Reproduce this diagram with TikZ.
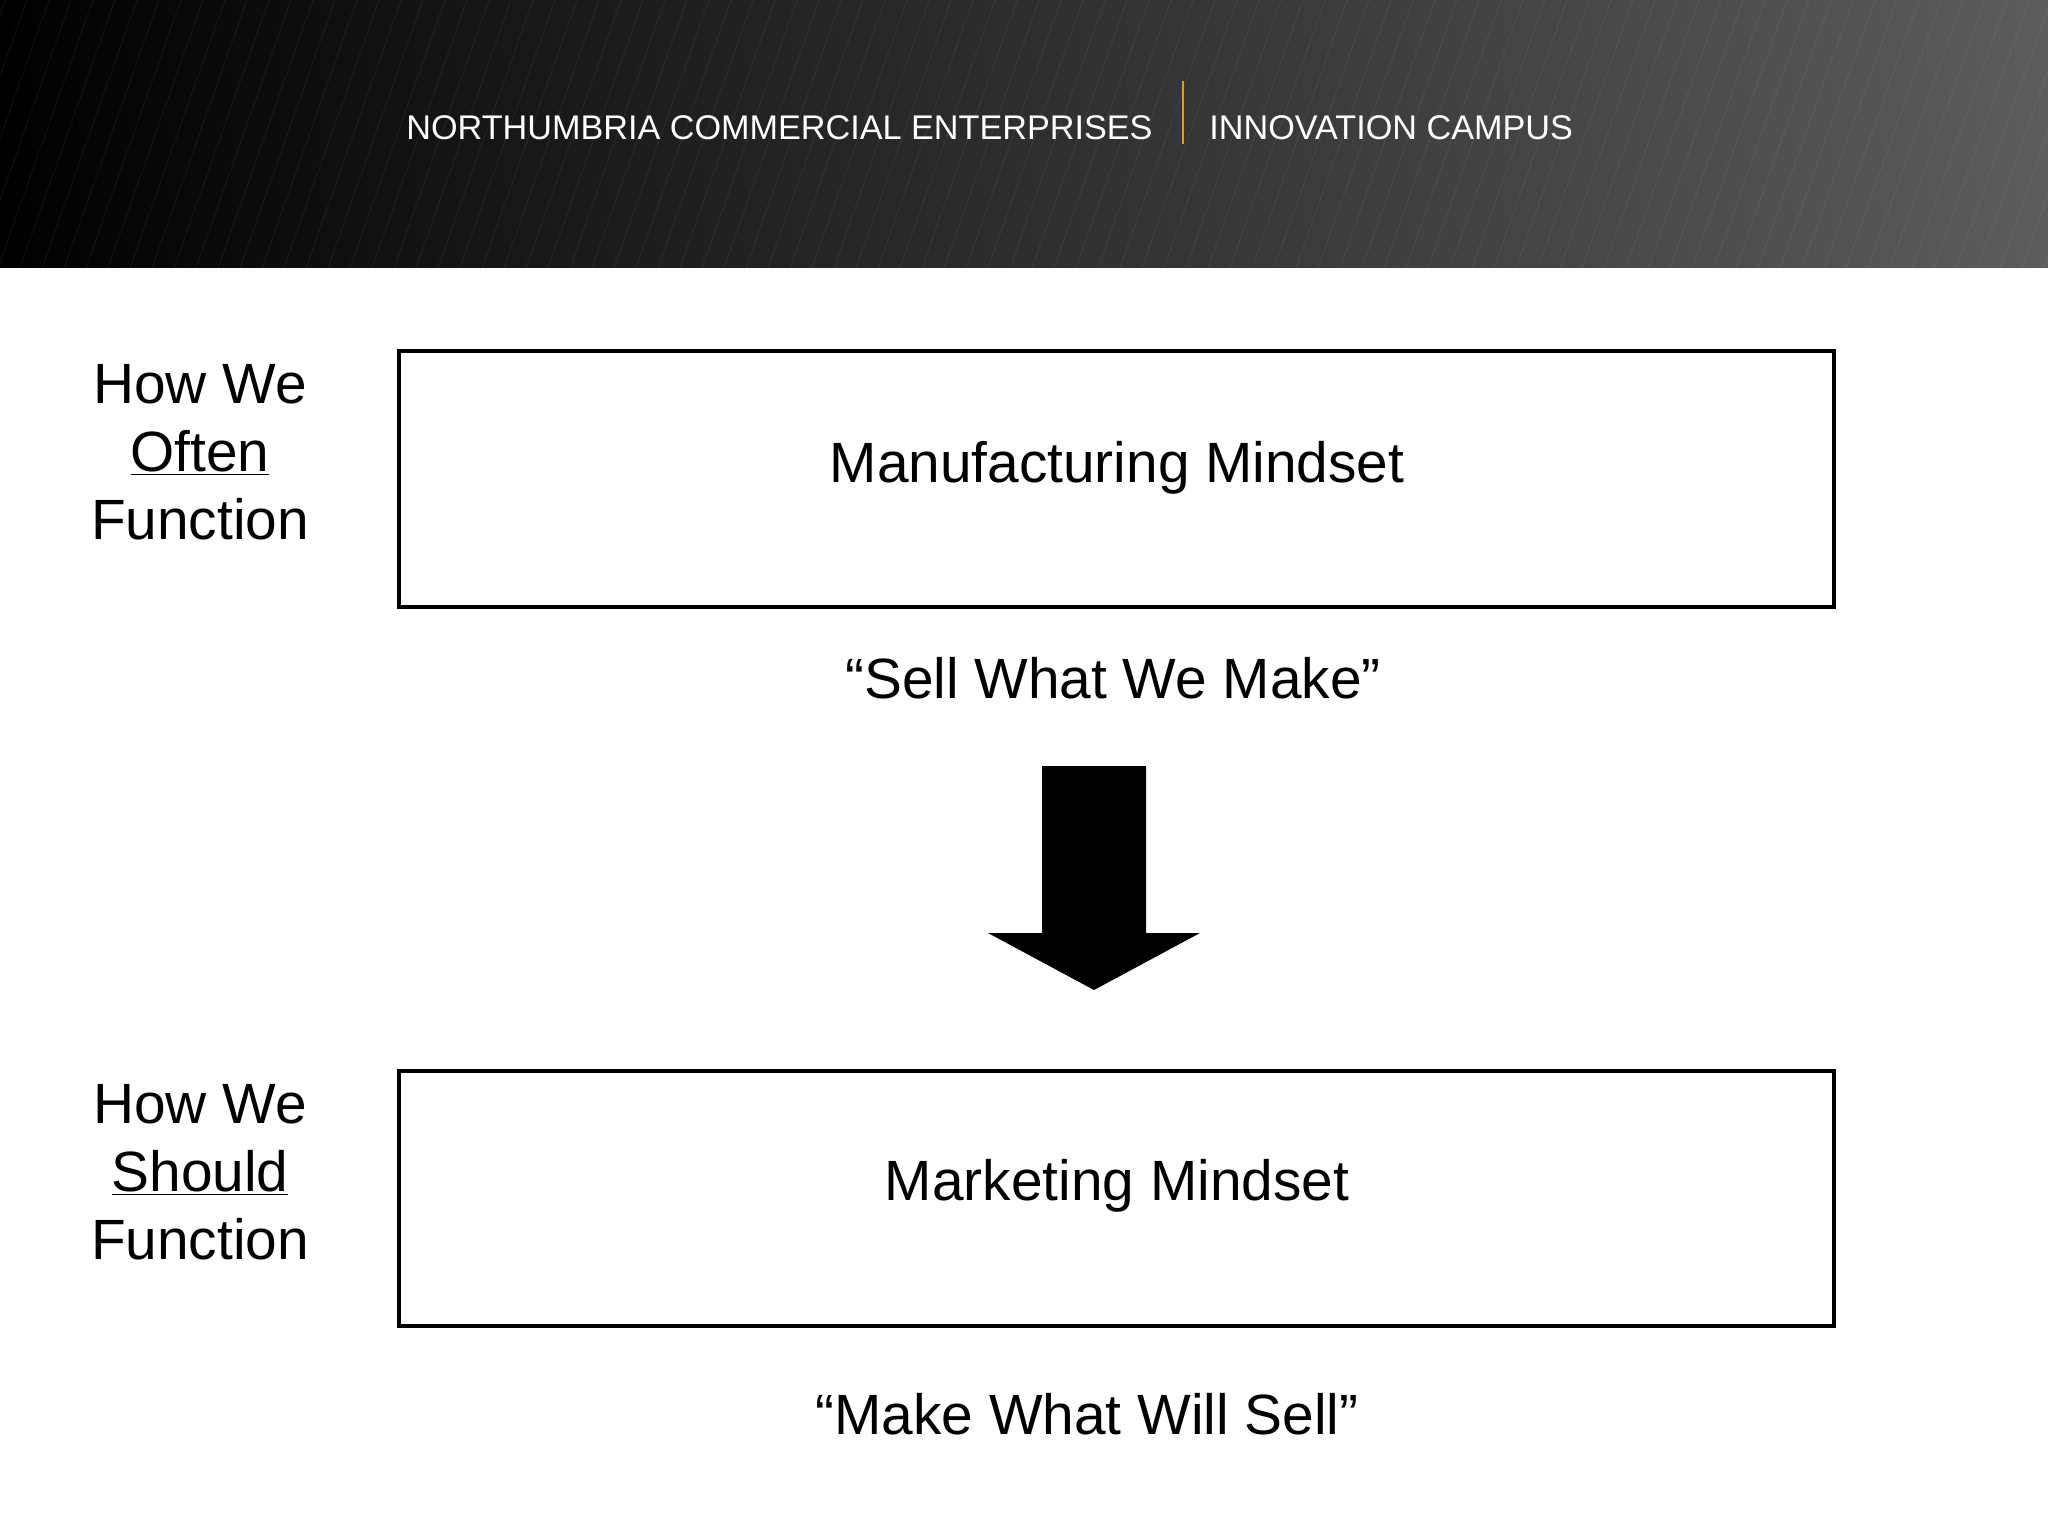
\documentclass[tikz,border=0pt]{standalone}
\usepackage{fontspec}
\setmainfont{Liberation Sans}
\begin{document}
\begin{tikzpicture}[x=0.5pt,y=-0.5pt,
  mindbox/.style={draw=black,line width=2.4pt,fill=white},
  bodytext/.style={font=\fontsize{28.4pt}{34pt}\selectfont,anchor=base,inner sep=0pt},
  headtext/.style={font=\fontsize{17.1pt}{20pt}\selectfont,text=white,anchor=base west,inner sep=0pt}]
\useasboundingbox (0,0) rectangle (2048,1536);
\fill[white] (0,0) rectangle (2048,1536);
% header
\shade[left color=black,right color={rgb,255:red,92;green,92;blue,92}] (0,0) rectangle (2048,268);
\begin{scope}
\clip (0,0) rectangle (2048,268);
\foreach \i in {-200,-178,...,2100} {
  \draw[white,opacity=0.07,line width=0.4pt] (\i,268) -- (\i+95,0);
}
\end{scope}
\fill[white] (0,268) rectangle (2048,271);
\node[headtext] (hleft) at (406,140) {NORTHUMBRIA COMMERCIAL ENTERPRISES};
\node[headtext] (hright) at (1209,140) {INNOVATION CAMPUS};
\draw[color={rgb,255:red,240;green,150;blue,20},line width=1.3pt] (1183,81) -- (1183,144);
% boxes
\draw[mindbox] (399,351) rectangle (1834,607);
\node[bodytext] (manuf) at (1117,482) {Manufacturing Mindset};
\node[bodytext] (sell) at (1113,698) {“Sell What We Make”};
\draw[mindbox] (399,1071) rectangle (1834,1326);
\node[bodytext] (mark) at (1117,1200) {Marketing Mindset};
\node[bodytext] (make) at (1087,1434) {“Make What Will Sell”};
% left labels
\node[bodytext] (l1a) at (200,403) {How We};
\node[bodytext] (l1b) at (200,471) {\underline{Often}};
\node[bodytext] (l1c) at (200,539) {Function};
\node[bodytext] (l2a) at (200,1123) {How We};
\node[bodytext] (l2b) at (200,1191) {\underline{Should}};
\node[bodytext] (l2c) at (200,1259) {Function};
% arrow
\coordinate (atl) at (1042,766);
\coordinate (atr) at (1146,766);
\coordinate (atip) at (1094,990);
\fill[black] (atl) -- (atr) -- (1146,933) -- (1200,933) -- (atip) -- (988,933) -- (1042,933) -- cycle;
\end{tikzpicture}
\end{document}
